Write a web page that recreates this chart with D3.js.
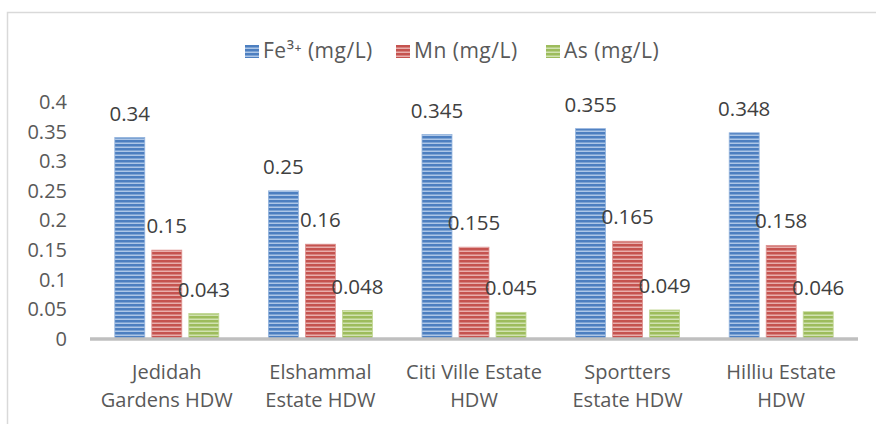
<!DOCTYPE html>
<html>
<head>
<meta charset="utf-8">
<script src="https://cdn.jsdelivr.net/npm/d3@7"></script>
<style>
    html, body { margin: 0; padding: 0; background: #fff; }
    svg { display: block; font-family: "Open Sans", sans-serif; }
</style>
</head>
<body>
<div id="chart"></div>
<script>
const categories = [
    ["Jedidah", "Gardens HDW"],
    ["Elshammal", "Estate HDW"],
    ["Citi Ville Estate", "HDW"],
    ["Sportters", "Estate HDW"],
    ["Hilliu Estate", "HDW"]
];
const seriesNames = ["Fe³⁺ (mg/L)", "Mn (mg/L)", "As (mg/L)"];
const feValues = [0.34, 0.25, 0.345, 0.355, 0.348];
const mnValues = [0.15, 0.16, 0.155, 0.165, 0.158];
const asValues = [0.043, 0.048, 0.045, 0.049, 0.046];
const yTicks = [0, 0.05, 0.1, 0.15, 0.2, 0.25, 0.3, 0.35, 0.4];

const colors = [
    { dark: "#4d7fc0", light: "#adc6e7", edge: "#93b3dd" },
    { dark: "#c5534f", light: "#e8aeac", edge: "#de9391" },
    { dark: "#9dbc5c", light: "#d1e2b1", edge: "#c0d692" }
];

const width = 876;
const height = 424;
const plot = { left: 90, right: 858, top: 102, bottom: 339 };

const svg = d3.select("#chart")
    .append("svg")
    .attr("width", width)
    .attr("height", height);

// striped fills, like the original chart
const defs = svg.append("defs");
colors.forEach((c, i) => {
    const p = defs.append("pattern")
        .attr("id", `stripe-${i}`)
        .attr("patternUnits", "userSpaceOnUse")
        .attr("width", 8)
        .attr("height", 4);
    p.append("rect").attr("width", 8).attr("height", 4).attr("fill", c.dark);
    p.append("rect").attr("y", 2.5).attr("width", 8).attr("height", 1.5).attr("fill", c.light);
});

// outer frame
svg.append("rect")
    .attr("x", 7.5)
    .attr("y", 12.5)
    .attr("width", width)
    .attr("height", height)
    .attr("fill", "none")
    .attr("stroke", "#d9d9d9")
    .attr("stroke-width", 1.5);

const data = categories.map((c, i) => ({
    name: c,
    values: [feValues[i], mnValues[i], asValues[i]]
}));

const x0 = d3.scaleBand()
    .domain(d3.range(categories.length))
    .range([plot.left, plot.right])
    .paddingInner(0.3229)
    .paddingOuter(0.16145);

const x1 = d3.scaleBand()
    .domain(d3.range(seriesNames.length))
    .range([0, x0.bandwidth()])
    .paddingInner(0.19)
    .paddingOuter(0);

const y = d3.scaleLinear()
    .domain([0, 0.4])
    .range([plot.bottom, plot.top]);

// y axis labels (no axis line, no gridlines)
const yAxis = svg.append("g")
    .attr("transform", `translate(${plot.left - 23},0)`)
    .call(d3.axisLeft(y).tickValues(yTicks).tickSize(0).tickPadding(0).tickFormat(d => String(+d.toFixed(2))));
yAxis.select(".domain").remove();
yAxis.selectAll("text")
    .attr("fill", "#595959")
    .style("font-size", "20px")
    .style("font-family", "'Open Sans', sans-serif");

// bars
const groups = svg.append("g")
    .selectAll("g")
    .data(data)
    .join("g")
    .attr("transform", (d, i) => `translate(${x0(i)},0)`);

groups.selectAll("rect")
    .data(d => d.values.map((v, s) => ({ v, s })))
    .join("rect")
    .attr("x", d => x1(d.s))
    .attr("y", d => y(d.v))
    .attr("width", x1.bandwidth())
    .attr("height", d => y(0) - y(d.v))
    .attr("fill", d => `url(#stripe-${d.s})`)
    .attr("stroke", d => colors[d.s].edge)
    .attr("stroke-width", 0.8);

// value labels
groups.selectAll("text")
    .data(d => d.values.map((v, s) => ({ v, s })))
    .join("text")
    .attr("x", d => x1(d.s) + x1.bandwidth() / 2)
    .attr("y", d => y(d.v) - 17)
    .attr("text-anchor", "middle")
    .attr("fill", "#404040")
    .style("font-size", "20.5px")
    .text(d => String(d.v));

// x axis line
svg.append("line")
    .attr("x1", plot.left)
    .attr("x2", plot.right)
    .attr("y1", y(0))
    .attr("y2", y(0))
    .attr("stroke", "#bfbfbf")
    .attr("stroke-width", 3.5);

// category labels, two lines each
const xLabels = svg.append("g")
    .selectAll("text")
    .data(data)
    .join("text")
    .attr("x", (d, i) => x0(i) + x0.bandwidth() / 2)
    .attr("y", 379)
    .attr("text-anchor", "middle")
    .attr("fill", "#595959")
    .style("font-size", "20px");
xLabels.selectAll("tspan")
    .data(d => d.name)
    .join("tspan")
    .attr("x", function () { return d3.select(this.parentNode).attr("x"); })
    .attr("dy", (d, i) => i === 0 ? 0 : 28)
    .text(d => d);

// legend
const legendX = [245, 396, 546];
const legend = svg.append("g")
    .selectAll("g")
    .data(seriesNames)
    .join("g")
    .attr("transform", (d, i) => `translate(${legendX[i]},45)`);
legend.append("rect")
    .attr("width", 14)
    .attr("height", 13)
    .attr("fill", (d, i) => `url(#stripe-${i})`);
legend.append("text")
    .attr("x", 18)
    .attr("y", 13)
    .attr("fill", "#595959")
    .style("font-size", "21px")
    .style("letter-spacing", "0.5px")
    .text(d => d);
</script>
</body>
</html>
